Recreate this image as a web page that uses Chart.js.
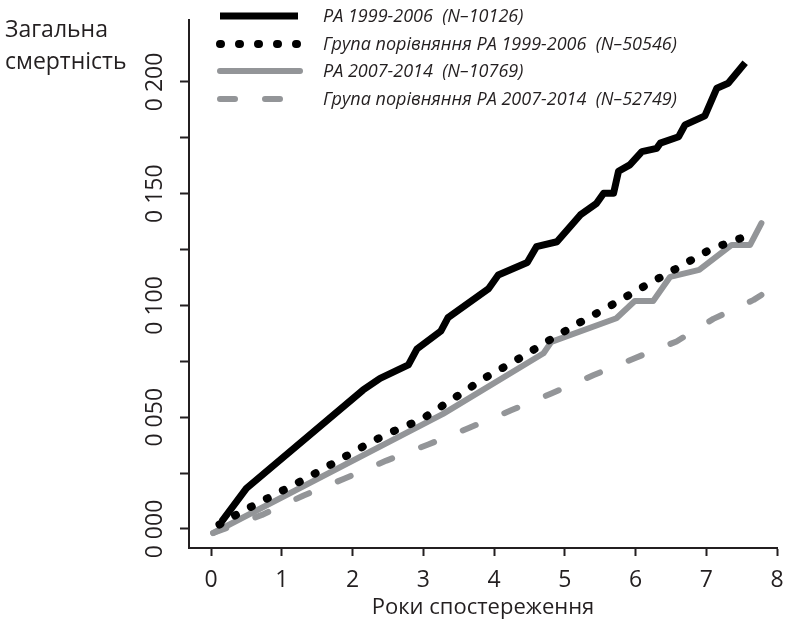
<!DOCTYPE html>
<html>
<head>
<meta charset="utf-8">
<script src="https://cdn.jsdelivr.net/npm/chart.js@4.4.1/dist/chart.umd.min.js"></script>
<style>
  html, body { margin: 0; padding: 0; background: #fff; }
  #wrap { width: 788px; height: 627px; }
</style>
</head>
<body>
<div id="wrap"><canvas id="chart" width="788" height="627"></canvas></div>
<script>
// cumulative mortality curves
const paOldX  = [0.15, 0.50, 2.15, 2.39, 2.79, 2.91, 3.25, 3.35, 3.92, 4.06, 4.47, 4.60, 4.89, 5.22, 5.45, 5.55, 5.69, 5.76, 5.92, 6.09, 6.30, 6.35, 6.61, 6.70, 6.98, 7.15, 7.31, 7.55];
const paOldY  = [0.0033, 0.0182, 0.0622, 0.0674, 0.0734, 0.0805, 0.0886, 0.0946, 0.1074, 0.1136, 0.1192, 0.1263, 0.1285, 0.1405, 0.1457, 0.1502, 0.1502, 0.1600, 0.1629, 0.1688, 0.1703, 0.1726, 0.1755, 0.1808, 0.1848, 0.1972, 0.1994, 0.2086];

const cmpOldX = [0.12, 0.43, 1.35, 2.27, 2.51, 2.98, 3.42, 3.86, 4.32, 4.79, 5.22, 5.68, 6.13, 6.60, 7.06, 7.55];
const cmpOldY = [0.0020, 0.0077, 0.0227, 0.0390, 0.0428, 0.0491, 0.0582, 0.0674, 0.0756, 0.0846, 0.0925, 0.1005, 0.1087, 0.1169, 0.1251, 0.1308];

const paNewX  = [0.03, 3.28, 4.70, 4.81, 5.73, 5.99, 6.25, 6.49, 6.90, 7.36, 7.62, 7.78];
const paNewY  = [-0.0018, 0.0515, 0.0786, 0.0837, 0.0943, 0.1020, 0.1020, 0.1128, 0.1159, 0.1271, 0.1271, 0.1368];

const cmpNewX = [0.03, 0.72, 1.31, 1.89, 2.48, 3.07, 3.66, 4.25, 4.81, 5.41, 5.98, 6.58, 7.10, 7.67, 7.78];
const cmpNewY = [-0.0018, 0.0063, 0.0150, 0.0226, 0.0306, 0.0378, 0.0454, 0.0532, 0.0606, 0.0689, 0.0763, 0.0839, 0.0940, 0.1025, 0.1047];

const seriesNames = [
  'РА 1999-2006  (N–10126)',
  'Група порівняння РА 1999-2006  (N–50546)',
  'РА 2007-2014  (N–10769)',
  'Група порівняння РА 2007-2014  (N–52749)'
];

const xTicks      = [0, 1, 2, 3, 4, 5, 6, 7, 8];
const yTicks      = [0, 0.025, 0.05, 0.075, 0.1, 0.125, 0.15, 0.175, 0.2];
const yTickLabels = ['0 000', '', '0 050', '', '0 100', '', '0 150', '', '0 200'];

const yAxisText = ['Загальна', 'смертність'];
const xAxisText = 'Роки спостереження';

const FONT  = "'Open Sans', sans-serif";
const INK   = '#231f20';
const GREY  = '#939598';

const pts = (xs, ys) => xs.map((x, i) => ({ x, y: ys[i] }));

const styles = [
  { color: '#000', width: 7, dash: [],       cap: 'butt'  },
  { color: '#000', width: 8, dash: [1, 17],  cap: 'round' },
  { color: GREY,   width: 6, dash: [],       cap: 'round' },
  { color: GREY,   width: 6, dash: [14, 31], cap: 'round' }
];
const seriesData = [pts(paOldX, paOldY), pts(cmpOldX, cmpOldY), pts(paNewX, paNewY), pts(cmpNewX, cmpNewY)];

// legend + y caption drawn by hand
const legendRows = [16, 44, 71, 99];
const legendDash = [[], [1, 18], [], [15, 30]];
const legendEnd  = [298, 297, 300, 280];

const overlay = {
  id: 'overlay',
  afterDraw(chart) {
    const ctx = chart.ctx;
    ctx.save();
    styles.forEach((s, i) => {
      const y = legendRows[i];
      ctx.beginPath();
      ctx.setLineDash(legendDash[i]);
      ctx.lineCap = s.cap;
      ctx.lineWidth = s.width;
      ctx.strokeStyle = s.color;
      ctx.moveTo(220, y);
      ctx.lineTo(legendEnd[i], y);
      ctx.stroke();
    });
    ctx.setLineDash([]);
    ctx.fillStyle = INK;
    ctx.textBaseline = 'alphabetic';
    ctx.textAlign = 'left';
    ctx.font = `italic 18px ${FONT}`;
    seriesNames.forEach((t, i) => ctx.fillText(t, 323, legendRows[i] + 6));

    ctx.font = `23px ${FONT}`;
    ctx.fillText(yAxisText[0], 5, 37);
    ctx.fillText(yAxisText[1], 5, 69);
    ctx.restore();
  }
};

new Chart(document.getElementById('chart'), {
  type: 'line',
  data: {
    datasets: seriesData.map((d, i) => ({
      label: seriesNames[i],
      data: d,
      borderColor: styles[i].color,
      borderWidth: styles[i].width,
      borderDash: styles[i].dash,
      borderCapStyle: styles[i].cap,
      borderJoinStyle: 'round',
      pointRadius: 0,
      tension: 0,
      fill: false
    }))
  },
  options: {
    responsive: false,
    animation: false,
    events: [],
    layout: { padding: { top: 20, right: 11, left: 0, bottom: 0 } },
    plugins: { legend: { display: false }, tooltip: { enabled: false } },
    scales: {
      x: {
        type: 'linear',
        min: -0.311,
        max: 8,
        afterBuildTicks: s => { s.ticks = xTicks.map(v => ({ value: v })); },
        afterFit: s => { s.height = 79; s.paddingLeft = 0; s.paddingRight = 0; },
        border: { color: INK, width: 2 },
        grid: { drawOnChartArea: false, tickLength: 8, tickColor: INK, tickWidth: 2 },
        ticks: { autoSkip: false, maxRotation: 0, padding: 11, color: INK, font: { family: FONT, size: 23 } },
        title: { display: true, text: xAxisText, color: INK, font: { family: FONT, size: 22 }, padding: { top: 0, bottom: 6 } }
      },
      y: {
        type: 'linear',
        min: -0.0085,
        max: 0.2277,
        afterBuildTicks: s => { s.ticks = yTicks.map(v => ({ value: v })); },
        afterFit: s => { s.width = 189; s.paddingTop = 0; s.paddingBottom = 0; },
        border: { color: INK, width: 2 },
        grid: { drawOnChartArea: false, tickLength: 9, tickColor: INK, tickWidth: 2 },
        ticks: {
          autoSkip: false,
          minRotation: 90,
          maxRotation: 90,
          crossAlign: 'center',
          padding: -5,
          color: INK,
          font: { family: FONT, size: 23 },
          callback: (v, i) => yTickLabels[i]
        }
      }
    }
  },
  plugins: [overlay]
});
</script>
</body>
</html>
